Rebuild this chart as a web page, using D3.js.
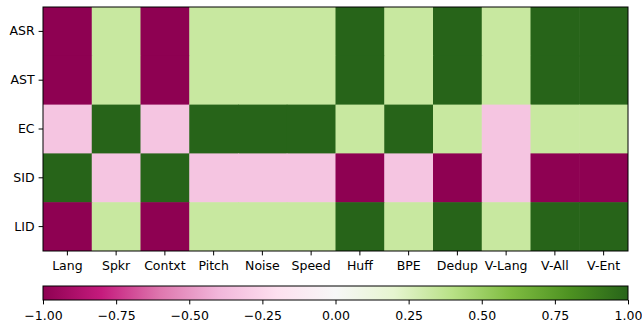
<!DOCTYPE html>
<html>
<head>
<meta charset="utf-8">
<script src="https://cdn.jsdelivr.net/npm/d3@7"></script>
<style>
html,body{margin:0;padding:0;background:#fff;}
svg{display:block;}
text{font-family:"DejaVu Sans",sans-serif;font-size:12.5px;fill:#000;}
</style>
</head>
<body>
<svg id="chart" width="642" height="324"></svg>
<script>
const tasks = ["ASR", "AST", "EC", "SID", "LID"];
const factors = ["Lang", "Spkr", "Contxt", "Pitch", "Noise", "Speed", "Huff", "BPE", "Dedup", "V-Lang", "V-All", "V-Ent"];
const valuesASR = [-1, 0.33, -1, 0.33, 0.33, 0.33, 1, 0.33, 1, 0.33, 1, 1];
const valuesAST = [-1, 0.33, -1, 0.33, 0.33, 0.33, 1, 0.33, 1, 0.33, 1, 1];
const valuesEC  = [-0.33, 1, -0.33, 1, 1, 1, 0.33, 1, 0.33, -0.33, 0.33, 0.33];
const valuesSID = [1, -0.33, 1, -0.33, -0.33, -0.33, -1, -0.33, -1, -0.33, -1, -1];
const valuesLID = [-1, 0.33, -1, 0.33, 0.33, 0.33, 1, 0.33, 1, 0.33, 1, 1];
const colorbarTicks = [-1, -0.75, -0.5, -0.25, 0, 0.25, 0.5, 0.75, 1];

const rows = [valuesASR, valuesAST, valuesEC, valuesSID, valuesLID];
const cells = [];
rows.forEach((r, i) => r.forEach((v, j) => cells.push({task: tasks[i], factor: factors[j], v})));

const piyg = ["#8e0152","#c51b7d","#de77ae","#f1b6da","#fde0ef","#f7f7f7","#e6f5d0","#b8e186","#7fbc41","#4d9221","#276419"];
const color = d3.scaleLinear()
  .domain(d3.range(11).map(i => -1 + i * 0.2))
  .range(piyg)
  .interpolate(d3.interpolateRgb);

const svg = d3.select("#chart");
const L = 43, R = 628, T = 7, B = 251;
const x = d3.scaleBand().domain(factors).range([L, R]).padding(0);
const y = d3.scaleBand().domain(tasks).range([T, B]).padding(0);

svg.append("defs").append("clipPath").attr("id", "clip")
  .append("rect").attr("x", L).attr("y", T).attr("width", R - L).attr("height", B - T);

svg.append("g").attr("clip-path", "url(#clip)")
  .selectAll("rect").data(cells).join("rect")
  .attr("x", d => x(d.factor))
  .attr("y", d => y(d.task))
  .attr("width", x.bandwidth() + 0.6)
  .attr("height", y.bandwidth() + 0.6)
  .attr("fill", d => color(d.v));

svg.append("rect").attr("x", L).attr("y", T).attr("width", R - L).attr("height", B - T)
  .attr("fill", "none").attr("stroke", "#000").attr("stroke-width", 1);

const xAxis = svg.append("g").attr("transform", `translate(0,${B})`)
  .call(d3.axisBottom(x).tickSize(4.4).tickPadding(6));
xAxis.select(".domain").remove();
xAxis.selectAll("text").style("font-size", "12.5px").attr("fill", "#000").style("font-family", "DejaVu Sans");
xAxis.selectAll("line").attr("stroke", "#000");

const yAxis = svg.append("g").attr("transform", `translate(${L},0)`)
  .call(d3.axisLeft(y).tickSize(4.4).tickPadding(4));
yAxis.select(".domain").remove();
yAxis.selectAll("text").style("font-size", "12.5px").attr("fill", "#000").style("font-family", "DejaVu Sans");
yAxis.selectAll("line").attr("stroke", "#000");

// colorbar
const CT = 286, CB = 300;
const cx = d3.scaleLinear().domain([-1, 1]).range([L, R]);
const grad = svg.select("defs").append("linearGradient").attr("id", "cbar")
  .attr("x1", "0%").attr("x2", "100%").attr("y1", "0%").attr("y2", "0%");
piyg.forEach((c, i) => grad.append("stop").attr("offset", (i * 10) + "%").attr("stop-color", c));
svg.append("rect").attr("x", L).attr("y", CT).attr("width", R - L).attr("height", CB - CT)
  .attr("fill", "url(#cbar)").attr("stroke", "#000").attr("stroke-width", 1);

const fmt = v => d3.format(".2f")(v).replace("-", "\u2212");
const cAxis = svg.append("g").attr("transform", `translate(0,${CB})`)
  .call(d3.axisBottom(cx).tickValues(colorbarTicks).tickFormat(fmt).tickSize(4.4).tickPadding(7));
cAxis.select(".domain").remove();
cAxis.selectAll("text").style("font-size", "12.5px").attr("fill", "#000").style("font-family", "DejaVu Sans");
cAxis.selectAll("line").attr("stroke", "#000");
</script>
</body>
</html>
